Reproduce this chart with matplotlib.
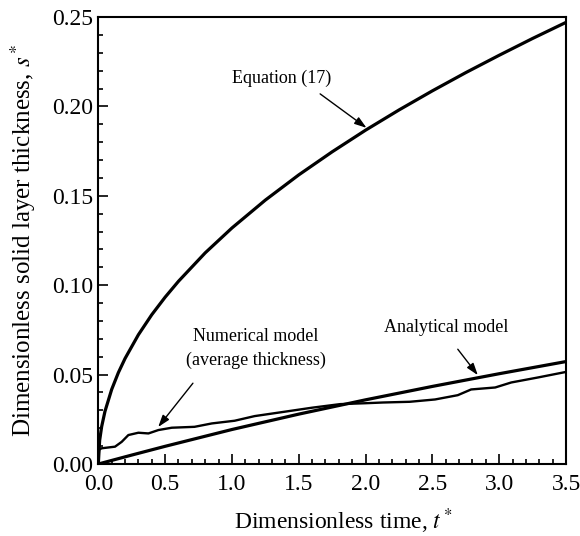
import matplotlib
matplotlib.use("Agg")
import matplotlib.pyplot as plt
from matplotlib.ticker import MultipleLocator

plt.rcParams['font.family'] = ['Liberation Serif', 'DejaVu Serif']
plt.rcParams['mathtext.fontset'] = 'stix'

# Equation (17)
t_eq = [0, 0.01, 0.025, 0.05, 0.1, 0.15, 0.2, 0.3, 0.4, 0.5, 0.6, 0.8, 1.0,
        1.25, 1.5, 1.75, 2.0, 2.25, 2.5, 2.75, 3.0, 3.25, 3.5]
s_eq = [0, 0.0132, 0.0209, 0.0295, 0.0417, 0.0511, 0.059, 0.0723, 0.0835,
        0.0933, 0.1022, 0.1181, 0.132, 0.1476, 0.1617, 0.1746, 0.1867, 0.198,
        0.2087, 0.2189, 0.2286, 0.238, 0.247]

# Analytical model
t_an = [0, 0.25, 0.5, 0.75, 1.0, 1.5, 2.0, 2.5, 3.0, 3.5]
s_an = [0, 0.005, 0.0099, 0.0146, 0.0193, 0.0279, 0.0359, 0.0434, 0.0505, 0.0573]

# Numerical model (average thickness)
t_num = [0, 0.005, 0.025, 0.125, 0.175, 0.225, 0.3, 0.375, 0.45, 0.55, 0.72,
         0.85, 1.02, 1.17, 1.39, 1.6, 1.81, 2.0, 2.13, 2.33, 2.52, 2.69, 2.79,
         2.97, 3.09, 3.29, 3.5]
s_num = [0, 0.008, 0.0088, 0.0097, 0.0124, 0.0162, 0.0175, 0.0171, 0.019,
         0.0203, 0.0208, 0.0227, 0.0242, 0.0268, 0.0292, 0.0315, 0.0335, 0.034,
         0.0344, 0.0348, 0.0361, 0.0385, 0.0417, 0.0428, 0.0456, 0.0484, 0.0515]

xticks = [0.0, 0.5, 1.0, 1.5, 2.0, 2.5, 3.0, 3.5]
yticks = [0.00, 0.05, 0.10, 0.15, 0.20, 0.25]

fig = plt.figure(figsize=(5.8, 5.36), dpi=100)
ax = fig.add_axes([0.1695, 0.1343, 0.8064, 0.834])

ax.plot(t_eq, s_eq, color='black', lw=2.3)
ax.plot(t_an, s_an, color='black', lw=2.3)
ax.plot(t_num, s_num, color='black', lw=1.7)

ax.set_xlim(0, 3.5)
ax.set_ylim(0, 0.25)
ax.set_xticks(xticks)
ax.set_yticks(yticks)
ax.set_xticklabels([f"{v:.1f}" for v in xticks])
ax.set_yticklabels([f"{v:.2f}" for v in yticks])
ax.xaxis.set_minor_locator(MultipleLocator(0.1))
ax.yaxis.set_minor_locator(MultipleLocator(0.01))
ax.tick_params(which='both', direction='in', top=False, right=False,
               width=1.2, labelsize=17)
ax.tick_params(axis='x', which='major', pad=7)
ax.tick_params(axis='y', which='major', pad=4)
ax.tick_params(which='major', length=7)
ax.tick_params(which='minor', length=3.5)
for sp in ax.spines.values():
    sp.set_linewidth(1.5)

ax.set_xlabel("Dimensionless time, $t^*$", fontsize=17, labelpad=8)
ax.xaxis.set_label_coords(0.525, -0.095)
ax.set_ylabel("Dimensionless solid layer thickness, $s^*$", fontsize=18, labelpad=10)

ann_fs = 13
arrow = dict(arrowstyle='-|>,head_length=0.6,head_width=0.2', color='black',
             lw=1.0, mutation_scale=12, shrinkA=0, shrinkB=0)
ax.text(1.375, 0.2159, "Equation (17)", ha='center', va='center', fontsize=ann_fs)
ax.annotate("", xy=(2.007, 0.188), xytext=(1.66, 0.207), arrowprops=arrow)
ax.text(1.18, 0.0645, "Numerical model\n(average thickness)", ha='center',
        va='center', multialignment='center', fontsize=ann_fs, linespacing=1.5)
ax.annotate("", xy=(0.448, 0.0207), xytext=(0.708, 0.0452), arrowprops=arrow)
ax.text(2.6, 0.0766, "Analytical model", ha='center', va='center', fontsize=ann_fs)
ax.annotate("", xy=(2.84, 0.0497), xytext=(2.69, 0.0642), arrowprops=arrow)

fig.savefig("out.png", dpi=100)
